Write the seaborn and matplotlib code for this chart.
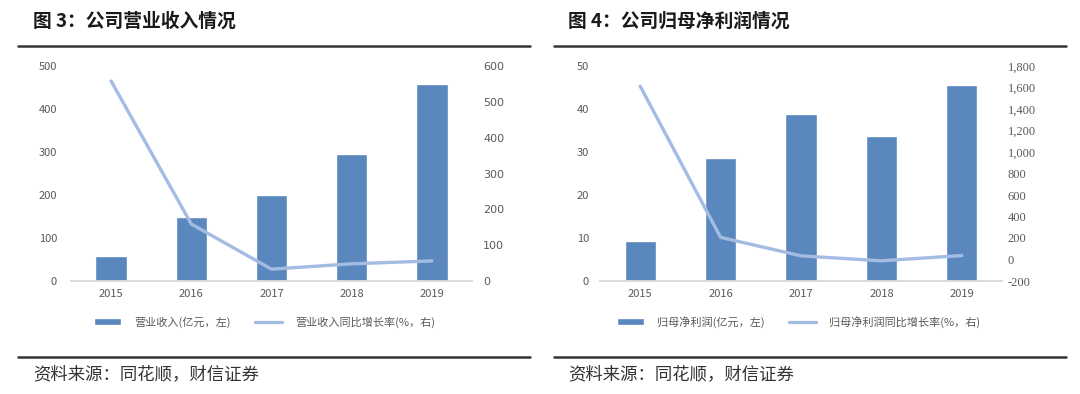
#!/usr/bin/env python3
"""
Two panel revenue / net profit chart (bars + growth line on twin axis)
"""

import numpy as np
import pandas as pd
import matplotlib
matplotlib.use('Agg')
import matplotlib.pyplot as plt
from matplotlib.lines import Line2D
from matplotlib.ticker import FuncFormatter
import seaborn as sns

# Data
years = ['2015', '2016', '2017', '2018', '2019']
revenue = [57, 150, 199, 295, 457]            # 营业收入 (亿元)
revenue_growth = [558, 159, 33, 48, 56]       # 营业收入同比增长率 (%)
net_profit = [9.2, 28.5, 38.8, 33.8, 45.6]     # 归母净利润 (亿元)
net_profit_growth = [1612, 206, 34, -12, 37]  # 归母净利润同比增长率 (%)

titles = ['图 3：公司营业收入情况', '图 4：公司归母净利润情况']
bar_labels = ['营业收入(亿元，左)', '归母净利润(亿元，左)']
line_labels = ['营业收入同比增长率(%，右)', '归母净利润同比增长率(%，右)']
source = '资料来源：同花顺，财信证券'

BAR_COLOR = '#5A87BD'
LINE_COLOR = '#A4BCE2'
TICK_COLOR = '#595959'
W, H = 1080, 394
AX_TOP, AX_BOTTOM = 66, 281

sns.set_theme(style='white')
plt.rcParams['font.family'] = ['Noto Sans CJK SC', 'DejaVu Sans']

fig = plt.figure(figsize=(W / 100, H / 100), dpi=100)


def fx(px):
    return px / W


def fy(py):
    return 1 - py / H


def panel(x0, x1, bars, line, left_lim, left_ticks, right_lim, right_ticks,
          bar_label, line_label, right_fmt, right_font, right_size, lpad, rpad):
    ax = fig.add_axes([fx(x0), fy(AX_BOTTOM), fx(x1 - x0), (AX_BOTTOM - AX_TOP) / H])
    df = pd.DataFrame({'year': years, 'value': bars})
    sns.barplot(data=df, x='year', y='value', color=BAR_COLOR, width=0.39,
                saturation=1, ax=ax, label=bar_label)
    ax.set_xlim(-0.5, len(years) - 0.5)
    ax.set_ylim(*left_lim)
    ax.set_yticks(left_ticks)
    ax.set_xlabel('')
    ax.set_ylabel('')

    ax2 = ax.twinx()
    ldf = pd.DataFrame({'pos': np.arange(len(years)), 'value': line})
    sns.lineplot(data=ldf, x='pos', y='value', color=LINE_COLOR, linewidth=2.4,
                 ax=ax2, label=line_label)
    ax2.set_ylim(*right_lim)
    ax2.set_yticks(right_ticks)
    ax2.yaxis.set_major_formatter(FuncFormatter(right_fmt))
    ax2.set_xlabel('')
    ax2.set_ylabel('')
    ax2.get_legend().remove()

    for a in (ax, ax2):
        for s in a.spines.values():
            s.set_visible(False)
        a.grid(False)
    ax.spines['bottom'].set_visible(True)
    ax.spines['bottom'].set_color('#D9D9D9')
    ax.spines['bottom'].set_linewidth(1.3)

    ax.tick_params(axis='x', length=0, pad=6, labelsize=8, labelcolor=TICK_COLOR)
    ax.tick_params(axis='y', length=0, pad=lpad, labelsize=8, labelcolor=TICK_COLOR)
    ax2.tick_params(axis='y', length=0, pad=rpad, labelsize=right_size, labelcolor=TICK_COLOR)
    for t in ax2.get_yticklabels():
        t.set_family(right_font)

    handles = ax.get_legend_handles_labels()[0] + ax2.get_legend_handles_labels()[0]
    if ax.get_legend() is not None:
        ax.get_legend().remove()
    return ax, ax2, handles


ax_a, ax_a2, h_a = panel(71, 472, revenue, revenue_growth, (0, 500), range(0, 501, 100),
                         (0, 600), range(0, 601, 100), bar_labels[0], line_labels[0],
                         lambda v, p: f'{v:.0f}', ['DejaVu Sans'], 8, 10, 8)
ax_b, ax_b2, h_b = panel(600, 1002, net_profit, net_profit_growth, (0, 50), range(0, 51, 10),
                         (-200, 1800), range(-200, 1801, 200), bar_labels[1], line_labels[1],
                         lambda v, p: f'{v:,.0f}', ['Liberation Serif'], 9, 8, 4)

# legends under each panel
for handles, x_start, labels in [(h_a, 94, (bar_labels[0], line_labels[0])),
                                 (h_b, 617, (bar_labels[1], line_labels[1]))]:
    fig.legend(handles, labels, loc='center left', bbox_to_anchor=(fx(x_start), fy(322)),
               ncol=2, frameon=False, fontsize=8, labelcolor=TICK_COLOR,
               handlelength=2.4, handleheight=0.6, handletextpad=1.2,
               columnspacing=2.2, borderpad=0, borderaxespad=0)

# titles, rules and source notes
for x_text, x0, x1, title in [(33, 18, 530, titles[0]), (568, 554, 1066, titles[1])]:
    fig.text(fx(x_text), fy(21), title, fontsize=13.5, fontweight='bold',
             color='#1a1a1a', va='center', ha='left')
    fig.add_artist(Line2D([fx(x0), fx(x1)], [fy(46), fy(46)], transform=fig.transFigure,
                          color='#333333', linewidth=1.8))
    fig.add_artist(Line2D([fx(x0), fx(x1)], [fy(357), fy(357)], transform=fig.transFigure,
                          color='#333333', linewidth=1.8))
    fig.text(fx(x_text), fy(374), source, fontsize=12.5, color='#333333',
             va='center', ha='left', style='italic')

fig.savefig('out.png', dpi=100)
